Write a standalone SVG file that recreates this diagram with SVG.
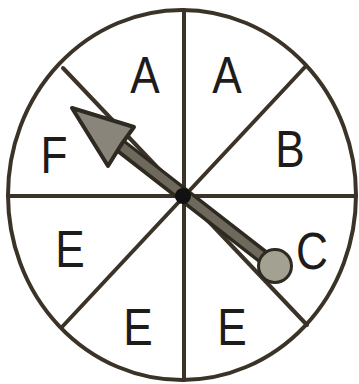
<svg xmlns="http://www.w3.org/2000/svg" width="359" height="384" viewBox="0 0 359 384">
<style>
.ln{stroke:#3b3327;stroke-width:4;fill:none;stroke-linecap:round}
.lbl{font-family:"Liberation Sans",Arial,sans-serif;font-size:52px;fill:#1e1c1a;text-anchor:middle}
</style>
<rect width="359" height="384" fill="#ffffff"/>
<g id="dial">
<ellipse cx="182" cy="195" rx="174" ry="185" class="ln"/>
</g>
<g id="dividers">
<line x1="184" y1="10" x2="184" y2="380" class="ln"/>
<line x1="8" y1="196" x2="356" y2="196" class="ln"/>
<line x1="63" y1="68" x2="307" y2="325" class="ln"/>
<line x1="305" y1="67" x2="62" y2="327" class="ln"/>
</g>
<g id="labels">
<text class="lbl" transform="translate(145,93) scale(0.85,1)">A</text>
<text class="lbl" transform="translate(227,93) scale(0.85,1)">A</text>
<text class="lbl" transform="translate(290,167) scale(0.85,1)">B</text>
<text class="lbl" transform="translate(54,173) scale(0.85,1)">F</text>
<text class="lbl" transform="translate(70,267) scale(0.85,1)">E</text>
<text class="lbl" transform="translate(138,345) scale(0.85,1)">E</text>
<text class="lbl" transform="translate(232,345) scale(0.85,1)">E</text>
<text class="lbl" transform="translate(312,269) scale(0.85,1)">C</text>
</g>
<g id="pointer">
<line x1="114" y1="141" x2="275" y2="266" stroke="#2e2a22" stroke-width="15" stroke-linecap="round"/>
<line x1="116" y1="142" x2="272" y2="264" stroke="#6f695d" stroke-width="8"/>
<polygon points="72,108 134,127 121,145 108,166" fill="#8a857a" stroke="#2e2a22" stroke-width="4" stroke-linejoin="round"/>
<circle cx="275" cy="266" r="16.5" fill="#a3a292" stroke="#2e2a22" stroke-width="3"/>
<circle cx="183" cy="196" r="8" fill="#111"/>
</g>
</svg>
